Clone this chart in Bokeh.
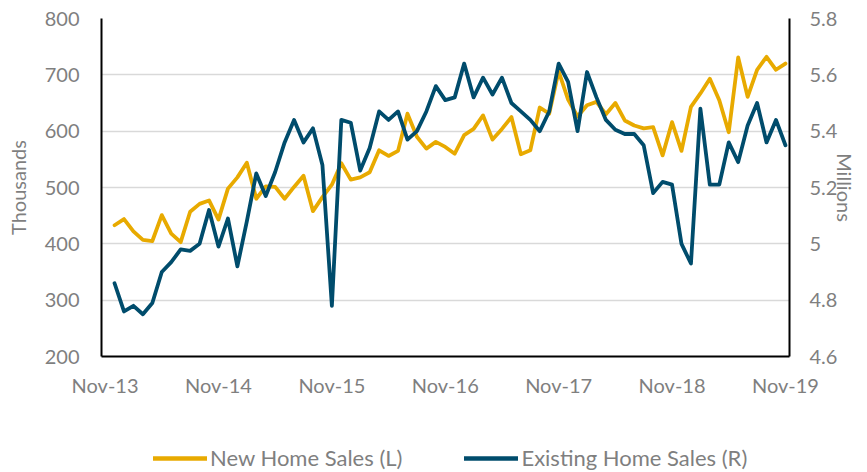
import pandas as pd
from bokeh.plotting import figure
from bokeh.layouts import column
from bokeh.models import (Range1d, LinearAxis, FixedTicker, CustomJSTickFormatter,
                          Legend, LegendItem, ColumnDataSource)
from bokeh.embed import file_html
from bokeh.resources import INLINE

# ---- data (Dec-13 .. Nov-19, monthly) ----
months = list(pd.period_range("2013-12", "2019-11", freq="M").strftime("%b-%y"))

new_home_sales = [  # thousands (left axis)
    433, 444, 422, 407, 405, 451, 418, 403, 457, 471,
    477, 443, 498, 518, 544, 480, 502, 501, 480, 501,
    521, 458, 483, 505, 543, 514, 518, 527, 566, 556,
    565, 631, 590, 569, 581, 572, 560, 593, 604, 628,
    585, 604, 625, 559, 566, 642, 631, 706, 656, 626,
    646, 652, 630, 650, 619, 610, 605, 607, 557, 616,
    565, 643, 667, 693, 655, 598, 731, 661, 709, 732,
    709, 720]

existing_home_sales = [  # millions (right axis)
    4.86, 4.76, 4.78, 4.75, 4.79, 4.90, 4.935, 4.98, 4.975, 5.00,
    5.12, 4.99, 5.09, 4.92, 5.08, 5.25, 5.17, 5.255, 5.36, 5.44,
    5.36, 5.41, 5.28, 4.78, 5.44, 5.43, 5.26, 5.34, 5.47, 5.44,
    5.47, 5.37, 5.40, 5.47, 5.56, 5.51, 5.52, 5.64, 5.52, 5.59,
    5.53, 5.59, 5.50, 5.47, 5.44, 5.40, 5.47, 5.64, 5.575, 5.40,
    5.61, 5.52, 5.44, 5.405, 5.39, 5.39, 5.35, 5.18, 5.22, 5.21,
    5.00, 4.93, 5.48, 5.21, 5.21, 5.36, 5.29, 5.42, 5.50, 5.36,
    5.44, 5.35]

series_names = ["New Home Sales (L)", "Existing Home Sales (R)"]
x_tick_labels = ["Nov-13", "Nov-14", "Nov-15", "Nov-16", "Nov-17", "Nov-18", "Nov-19"]
left_ticks = [200, 300, 400, 500, 600, 700, 800]
right_ticks = [4.6, 4.8, 5.0, 5.2, 5.4, 5.6, 5.8]

# month offset from Nov-13
x = [i + 1 for i in range(len(months))]
src = ColumnDataSource(dict(x=x, month=months, nhs=new_home_sales, ehs=existing_home_sales))

ORANGE = "#E8AA00"
BLUE = "#004C6C"
GRAY = "#7F7F7F"
FONT = "Lato"
LW = 3.8

W = 867
H_MAIN = 440
H_LEG = 32

p = figure(width=W, height=H_MAIN, output_backend="svg", toolbar_location=None,
           x_range=Range1d(-0.38, 72.43), y_range=Range1d(left_ticks[0], left_ticks[-1]),
           min_border_left=101, min_border_right=78, min_border_top=18, min_border_bottom=84)
p.outline_line_color = None
p.background_fill_color = "white"
p.border_fill_color = "white"

p.extra_y_ranges = {"right": Range1d(right_ticks[0], right_ticks[-1])}

p.line("x", "nhs", source=src, line_color=ORANGE, line_width=LW,
       line_join="round", line_cap="round")
p.line("x", "ehs", source=src, line_color=BLUE, line_width=LW,
       line_join="round", line_cap="round", y_range_name="right")

# grid
p.xgrid.visible = False
p.ygrid.grid_line_color = "#D9D9D9"
p.ygrid.grid_line_width = 1.5
p.ygrid.ticker = FixedTicker(ticks=left_ticks)

def style_axis(ax):
    ax.axis_line_color = "black"
    ax.axis_line_width = 2
    ax.major_tick_line_color = None
    ax.minor_tick_line_color = None
    ax.major_tick_out = 0
    ax.major_tick_in = 0
    ax.major_label_text_font = FONT
    ax.major_label_text_font_size = "20px"
    ax.major_label_text_color = GRAY
    ax.axis_label_text_font = FONT
    ax.axis_label_text_font_size = "20px"
    ax.axis_label_text_font_style = "normal"
    ax.axis_label_text_color = GRAY

# x axis
xa = p.xaxis[0]
style_axis(xa)
xa.ticker = FixedTicker(ticks=[12 * i for i in range(len(x_tick_labels))])
xa.formatter = CustomJSTickFormatter(args=dict(labels=x_tick_labels),
                                     code="const k = Math.round(tick/12); return labels[k] || '';")
xa.major_label_standoff = 16

# left axis
ya = p.yaxis[0]
style_axis(ya)
ya.ticker = FixedTicker(ticks=left_ticks)
ya.axis_label = "Thousands"
ya.major_label_standoff = 22
ya.axis_label_standoff = 12

# right axis
ra = LinearAxis(y_range_name="right", axis_label="Millions")
style_axis(ra)
ra.ticker = FixedTicker(ticks=right_ticks)
ra.formatter = CustomJSTickFormatter(code="return (Math.round(tick*10)/10).toString();")
ra.major_label_standoff = 20
ra.axis_label_standoff = -7
p.add_layout(ra, "right")

# ---- legend strip below the chart ----
pl = figure(width=W, height=H_LEG, output_backend="svg", toolbar_location=None,
            x_axis_type=None, y_axis_type=None, x_range=Range1d(0, 1), y_range=Range1d(0, 1),
            min_border=0)
pl.outline_line_color = None
pl.grid.visible = False
nan = float("nan")
k1 = pl.line(x=[nan], y=[nan], line_color=ORANGE, line_width=4.5, line_cap="round")
k2 = pl.line(x=[nan], y=[nan], line_color=BLUE, line_width=4.5, line_cap="round")
legend = Legend(items=[LegendItem(label=series_names[0], renderers=[k1]),
                       LegendItem(label=series_names[1], renderers=[k2])],
                location=(52, 1), orientation="horizontal",
                padding=0, margin=0, spacing=62, glyph_width=54, glyph_height=20,
                label_standoff=3, label_text_font=FONT, label_text_font_size="22px",
                label_text_color=GRAY, border_line_color=None, background_fill_alpha=0)
pl.add_layout(legend, "center")

layout = column(p, pl, spacing=0)
open("out.html", "w").write(file_html(layout, INLINE))
